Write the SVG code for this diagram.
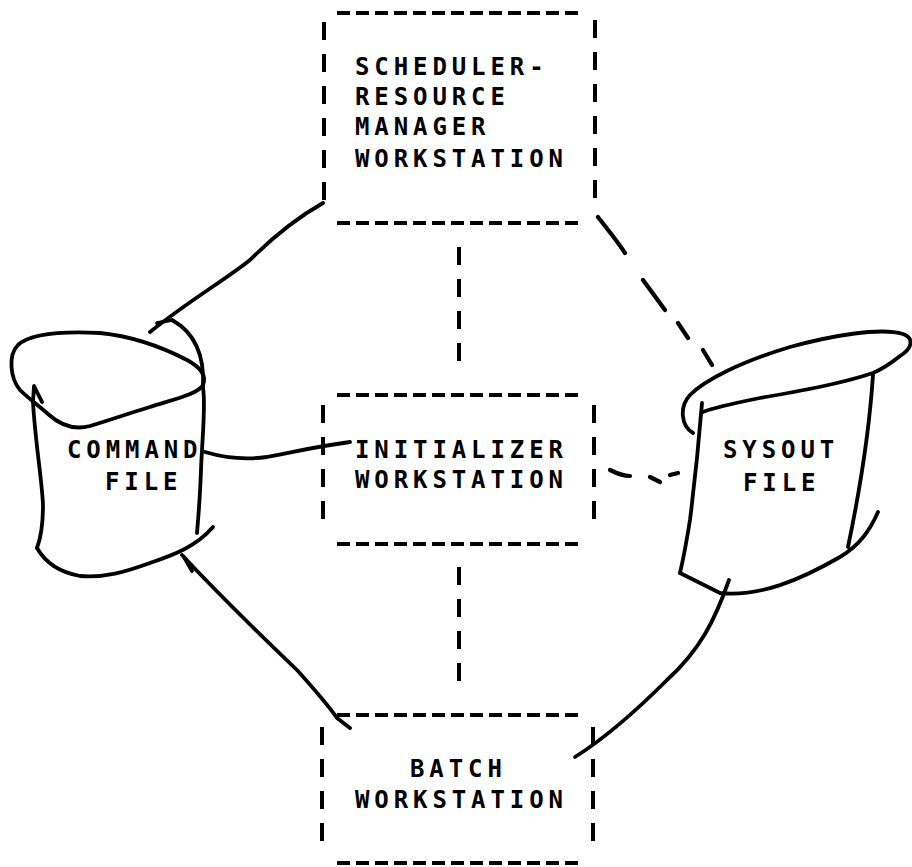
<svg xmlns="http://www.w3.org/2000/svg" width="912" height="867" viewBox="0 0 912 867">
  <style>
    .lbl { font-family: "DejaVu Sans Mono", "Liberation Mono", monospace; font-size: 24px; font-weight: bold; letter-spacing: 4.9px; fill: #000; }
    .hd { stroke: #000; stroke-width: 4; fill: none; stroke-dasharray: 13 6; }
    .vd { stroke: #000; stroke-width: 4; fill: none; stroke-dasharray: 18 14; }
    .ink { stroke: #000; stroke-width: 3.8; fill: none; stroke-linecap: round; stroke-linejoin: round; }
    .dash { stroke: #000; stroke-width: 4.2; fill: none; stroke-linecap: round; }
  </style>
  <rect width="912" height="867" fill="#fff"/>

  <!-- workstation boxes: dashed outlines -->
  <g id="scheduler">
    <line class="hd" x1="337" y1="13" x2="578" y2="13"/>
    <line class="hd" x1="337" y1="223" x2="578" y2="223"/>
    <line class="vd" x1="324" y1="22" x2="324" y2="204"/>
    <line class="vd" x1="595" y1="20" x2="595" y2="204"/>
    <text class="lbl" x="355" y="75">SCHEDULER-</text>
    <text class="lbl" x="355" y="105">RESOURCE</text>
    <text class="lbl" x="355" y="135">MANAGER</text>
    <text class="lbl" x="355" y="167">WORKSTATION</text>
  </g>

  <g id="initializer">
    <line class="hd" x1="337" y1="395" x2="578" y2="395"/>
    <line class="hd" x1="337" y1="544" x2="578" y2="544"/>
    <line class="vd" x1="323" y1="405" x2="323" y2="520"/>
    <line class="vd" x1="594" y1="405" x2="594" y2="520"/>
    <text class="lbl" x="355" y="458">INITIALIZER</text>
    <text class="lbl" x="355" y="488">WORKSTATION</text>
  </g>

  <g id="batch">
    <line class="hd" x1="337" y1="715" x2="578" y2="715"/>
    <line class="hd" x1="337" y1="863" x2="578" y2="863"/>
    <line class="vd" x1="322" y1="727" x2="322" y2="841"/>
    <line class="vd" x1="593" y1="727" x2="593" y2="841"/>
    <text class="lbl" x="410" y="777">BATCH</text>
    <text class="lbl" x="355" y="808">WORKSTATION</text>
  </g>

  <!-- hand-drawn file cylinders -->
  <g id="command-file">
    <path class="ink" d="M20,390 C10,378 8,355 18,345 C30,334 60,331 100,333 C130,336 160,346 187,360 C200,367 207,375 203,385 C198,394 175,399 150,407 C130,413 110,420 90,426 C75,430 60,425 48,414 C38,405 28,398 20,390 Z"/>
    <path class="ink" d="M42,402 L34,386 L33,402 C35,440 42,480 43,505 C43,525 40,540 37,548"/>
    <path class="ink" d="M203,388 C206,405 202,440 201,470 C200,500 198,520 197,533"/>
    <path class="ink" d="M37,548 C45,562 58,572 80,576 C105,578 125,572 150,563 C170,556 195,548 213,527"/>
    <text class="lbl" x="67" y="458">COMMAND</text>
    <text class="lbl" x="105" y="490">FILE</text>
  </g>

  <g id="sysout-file">
    <path class="ink" d="M693,433 C681,426 679,407 690,395 C705,380 740,362 790,347 C830,336 880,327 903,334 C914,338 913,348 900,356 C890,364 880,370 873,373 C840,384 800,391 760,398 C735,403 715,407 703,412"/>
    <path class="ink" d="M702,403 C699,440 695,480 690,520 C686,545 683,560 680,573"/>
    <path class="ink" d="M873,375 C870,420 862,480 848,547"/>
    <path class="ink" d="M680,573 L720,593 C760,597 800,580 840,557 C860,545 870,530 878,512"/>
    <text class="lbl" x="723" y="458">SYSOUT</text>
    <text class="lbl" x="743" y="491">FILE</text>
  </g>

  <!-- connectors -->
  <g id="connectors">
    <!-- scheduler to command file -->
    <path class="ink" d="M323,203 C300,216 275,235 250,260 C225,280 190,300 150,332"/>
    <path class="ink" d="M157,323 L172,320 C190,330 205,350 203,387"/>
    <!-- command file to initializer -->
    <path class="ink" d="M205,452 C225,458 245,460 267,457 C290,453 312,447 350,442"/>
    <!-- command file to batch -->
    <path class="ink" d="M182,555 C210,585 250,625 297,670 C315,690 330,708 337,718 L350,728"/>
    <path class="ink" d="M184,557 L192,571"/>
    <!-- sysout file to batch -->
    <path class="ink" d="M729,580 C715,620 700,650 667,680 C640,707 610,735 575,757"/>
    <!-- dashed links -->
    <line class="vd" x1="459" y1="247" x2="459" y2="362"/>
    <line class="vd" x1="459" y1="567" x2="459" y2="683"/>
    <path class="dash" d="M598,217 C608,230 618,242 625,253 M643,280 L665,310 M678,323 L688,338 M703,350 L712,365"/>
    <path class="dash" d="M610,470 C618,474 624,476 630,476 M650,477 L660,482 M670,475 L678,473"/>
  </g>
</svg>
